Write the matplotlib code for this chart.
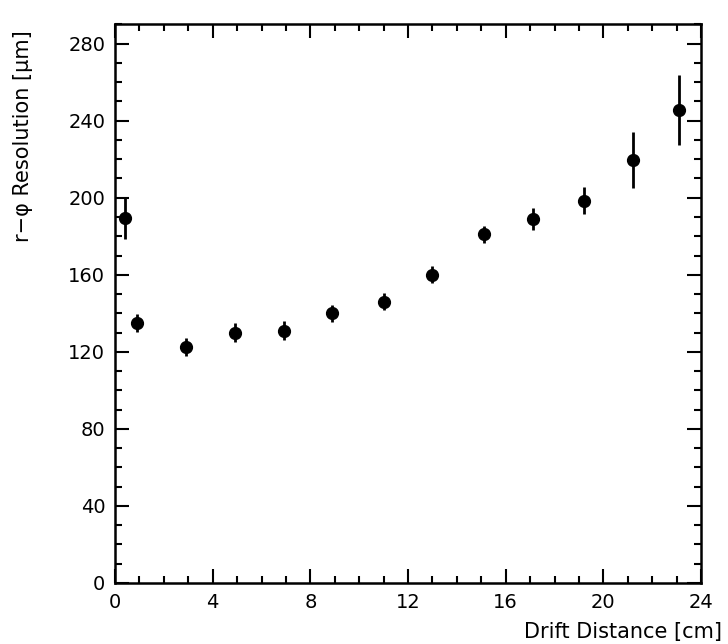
import numpy as np
import matplotlib
matplotlib.use('Agg')
import matplotlib.pyplot as plt
from matplotlib.ticker import MultipleLocator

# drift distance (cm) and r-phi resolution (um)
drift = [0.4, 0.9, 2.9, 4.9, 6.9, 8.9, 11.0, 13.0, 15.1, 17.1, 19.2, 21.2, 23.1]
resolution = [189.5, 135, 122.5, 130, 131, 140, 146, 160, 181, 189, 198.5, 219.5, 245.5]
errors = [11, 4.5, 4.6, 5, 5, 4.5, 4.5, 4.5, 4.5, 5.5, 7, 14.5, 18]

x_ticks = [0, 4, 8, 12, 16, 20, 24]
y_ticks = [0, 40, 80, 120, 160, 200, 240, 280]

plt.rcParams['font.family'] = ['DejaVu Sans']

fig = plt.figure(figsize=(7.28, 6.44), dpi=100)
ax = fig.add_axes([0.158, 0.095, 0.805, 0.867])

ax.errorbar(drift, resolution, yerr=errors, fmt='o', color='black',
            markersize=8.5, elinewidth=2, capsize=0)

ax.set_xlim(0, 24)
ax.set_ylim(0, 290)
ax.set_xticks(x_ticks)
ax.set_yticks(y_ticks)
ax.xaxis.set_minor_locator(MultipleLocator(1))
ax.yaxis.set_minor_locator(MultipleLocator(10))
ax.tick_params(which='both', direction='in', top=True, right=True,
               width=1.5, labelsize=14, colors='black')
ax.tick_params(which='major', length=10, pad=7)
ax.tick_params(which='minor', length=5)
for s in ax.spines.values():
    s.set_linewidth(1.8)

ax.set_xlabel('Drift Distance [cm]', fontsize=15, ha='right')
ax.xaxis.set_label_coords(1.035, -0.07)
ax.set_ylabel('r\u2212\u03c6 Resolution [\u03bcm]', fontsize=15, ha='right')
ax.yaxis.set_label_coords(-0.14, 0.99)

fig.savefig('out.png', dpi=100)
